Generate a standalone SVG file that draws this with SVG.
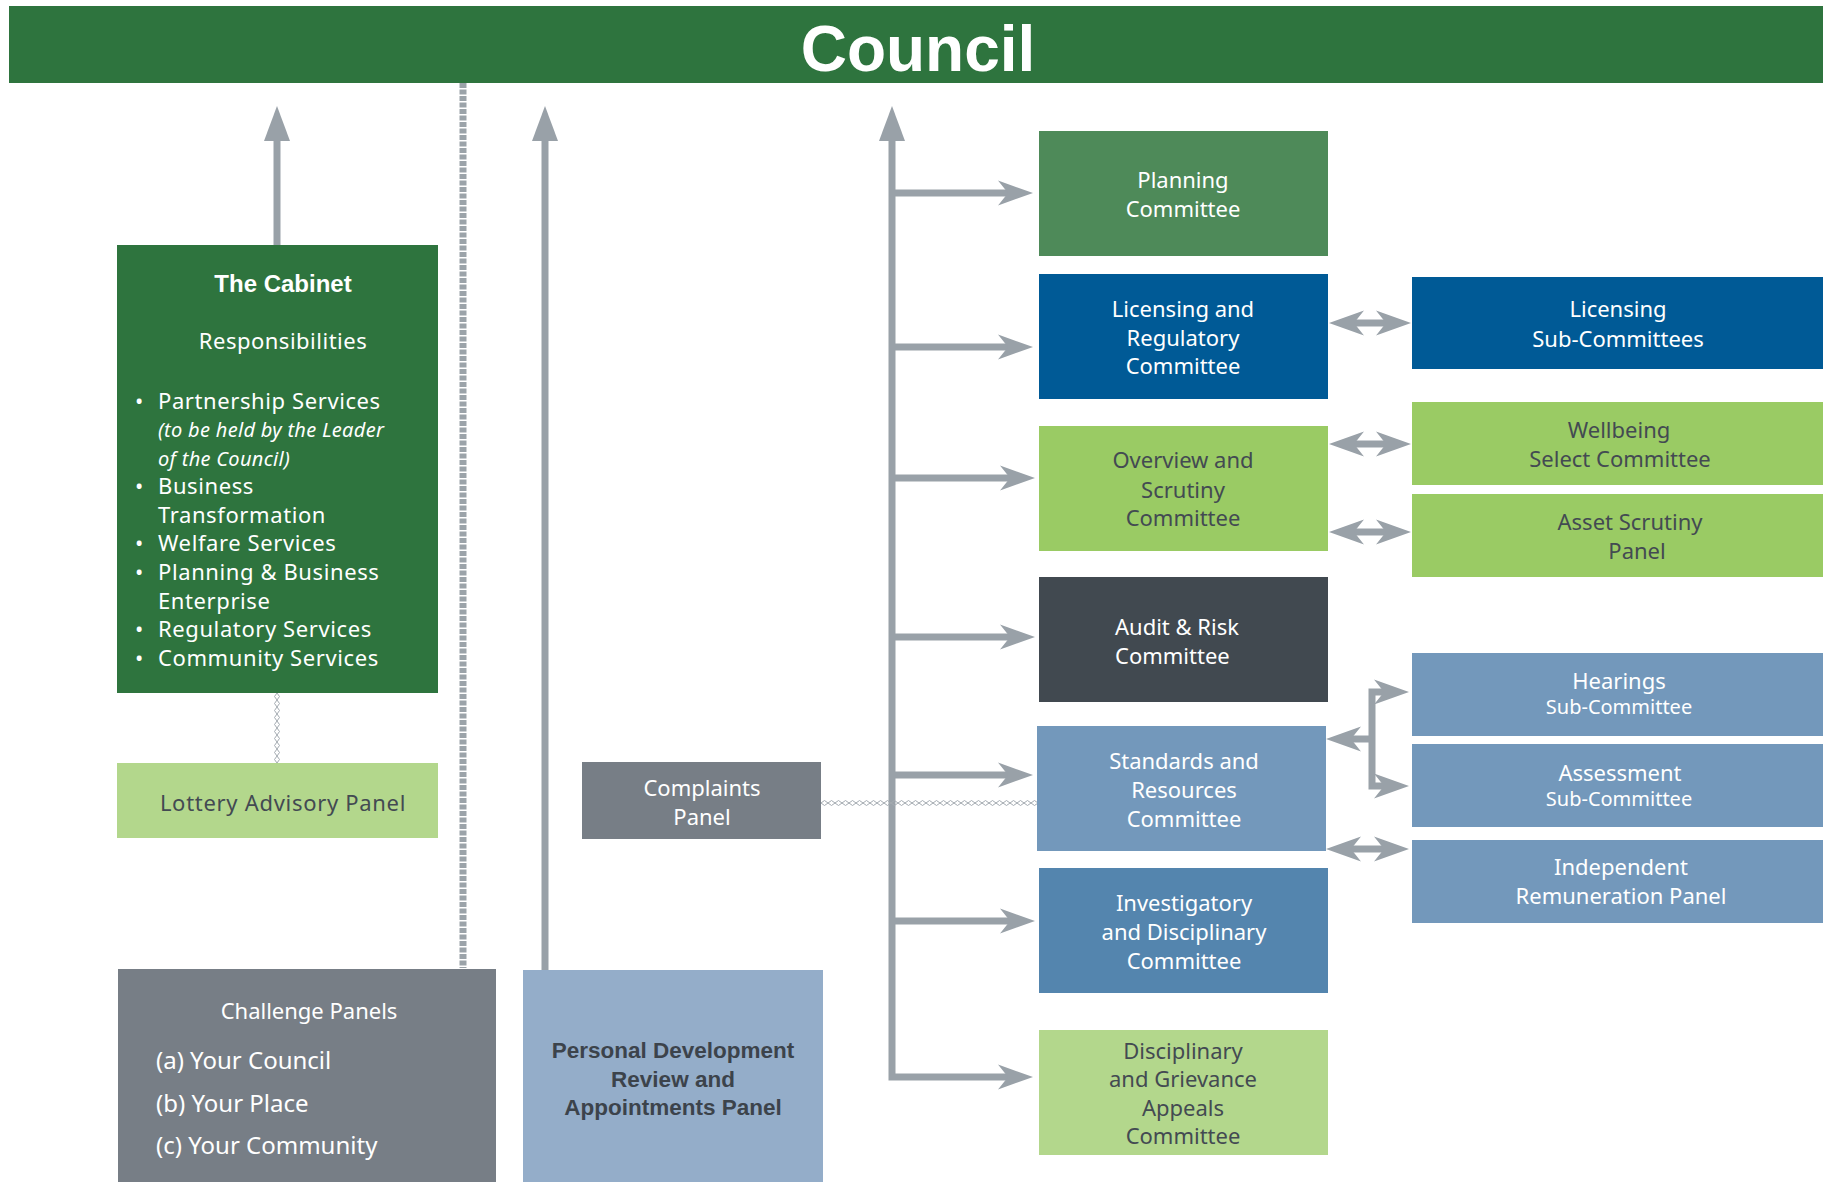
<svg xmlns="http://www.w3.org/2000/svg" width="1823" height="1182" viewBox="0 0 1823 1182">
<style>
.t{font-family:"Noto Sans","Open Sans","DejaVu Sans",sans-serif;font-size:22px;text-anchor:middle}
.w{fill:#ffffff}
.d{fill:#434a52}
.s{font-size:20px}
.b{font-family:"Liberation Sans",Arial,sans-serif;font-weight:bold}
.l{text-anchor:start}
.it{font-style:italic;font-size:20px;letter-spacing:0.3px}
.cp{font-size:24px}
.con{fill:none;stroke:#99a1a8;stroke-width:7}
</style>
<defs>
<marker id="up" markerUnits="userSpaceOnUse" viewBox="-36 -14 37 28" markerWidth="37" markerHeight="28" refX="-35" refY="0" orient="auto-start-reverse">
<path d="M0,0 L-35,-13 L-35,13 Z" fill="#99a1a8"/>
</marker>
<marker id="ah" markerUnits="userSpaceOnUse" viewBox="-36 -14 37 28" markerWidth="37" markerHeight="28" refX="-25" refY="0" orient="auto-start-reverse">
<path d="M0,0 L-35,-12.5 L-25,0 L-35,12.5 Z" fill="#99a1a8"/>
</marker>
<pattern id="dh" patternUnits="userSpaceOnUse" x="821" y="799" width="7" height="8">
<path d="M0,4 L3.5,1.5 L7,4 L3.5,6.5 Z" fill="none" stroke="#a3aab0" stroke-width="1"/>
</pattern>
<pattern id="dv" patternUnits="userSpaceOnUse" x="273" y="693" width="8" height="7">
<path d="M4,0 L6.5,3.5 L4,7 L1.5,3.5 Z" fill="none" stroke="#a3aab0" stroke-width="1"/>
</pattern>
</defs>

<g id="connectors">
<line x1="463" y1="83" x2="463" y2="968" stroke="#9ba3a9" stroke-width="7" stroke-dasharray="5 1.5"/>
<path class="con" d="M277,245 V141" marker-end="url(#up)"/>
<path class="con" d="M545,970 V141" marker-end="url(#up)"/>
<path class="con" d="M892,141 V1077 H1008" marker-start="url(#up)" marker-end="url(#ah)"/>
<path class="con" d="M892,193 H1008" marker-end="url(#ah)"/>
<path class="con" d="M892,347 H1008" marker-end="url(#ah)"/>
<path class="con" d="M892,478 H1010" marker-end="url(#ah)"/>
<path class="con" d="M892,637 H1010" marker-end="url(#ah)"/>
<path class="con" d="M892,775 H1008" marker-end="url(#ah)"/>
<path class="con" d="M892,921 H1010" marker-end="url(#ah)"/>
<path class="con" d="M1354,323 H1386" marker-start="url(#ah)" marker-end="url(#ah)"/>
<path class="con" d="M1354,444 H1386" marker-start="url(#ah)" marker-end="url(#ah)"/>
<path class="con" d="M1354,532 H1386" marker-start="url(#ah)" marker-end="url(#ah)"/>
<path class="con" d="M1351,849 H1384" marker-start="url(#ah)" marker-end="url(#ah)"/>
<path class="con" d="M1384,692 H1372 V786 H1384" marker-start="url(#ah)" marker-end="url(#ah)"/>
<path class="con" d="M1372,739 H1351" marker-end="url(#ah)"/>
<rect x="273" y="693" width="8" height="70" fill="url(#dv)"/>
<rect x="821" y="799" width="217" height="8" fill="url(#dh)"/>
</g>

<g id="council">
<rect x="9" y="6" width="1814" height="77" fill="#2e743e"/>
<text x="918" y="71" class="b" font-size="64" fill="#ffffff" text-anchor="middle">Council</text>
</g>

<g id="cabinet">
<rect x="117" y="245" width="321" height="448" fill="#2e743e"/>
<text x="283" y="292" class="b w" font-size="24" text-anchor="middle">The Cabinet</text>
<text x="283" y="349" class="t w" letter-spacing="0.5">Responsibilities</text>
<g class="t w l" letter-spacing="0.6">
<text x="135" y="408.7">•</text><text x="158" y="408.7">Partnership Services</text>
<text x="158" y="437.2" class="it">(to be held by the Leader</text>
<text x="158" y="465.7" class="it">of the Council)</text>
<text x="135" y="494">•</text><text x="158" y="494">Business</text>
<text x="158" y="522.6">Transformation</text>
<text x="135" y="551">•</text><text x="158" y="551">Welfare Services</text>
<text x="135" y="580.3">•</text><text x="158" y="580.3">Planning &amp; Business</text>
<text x="158" y="608.8">Enterprise</text>
<text x="135" y="637.3">•</text><text x="158" y="637.3">Regulatory Services</text>
<text x="135" y="665.7">•</text><text x="158" y="665.7">Community Services</text>
</g>
</g>

<g id="lottery">
<rect x="117" y="763" width="321" height="75" fill="#b3d78c"/>
<text x="283" y="811" class="t d" letter-spacing="0.7">Lottery Advisory Panel</text>
</g>

<g id="challenge">
<rect x="118" y="969" width="378" height="213" fill="#777e86"/>
<text x="309" y="1019" class="t w">Challenge Panels</text>
<text x="156" y="1069" class="t w l cp">(a) Your Council</text>
<text x="156" y="1112" class="t w l cp">(b) Your Place</text>
<text x="156" y="1154" class="t w l cp">(c) Your Community</text>
</g>

<g id="personal">
<rect x="523" y="970" width="300" height="212" fill="#94adc9"/>
<text class="b" font-size="22.5" fill="#3c434b" text-anchor="middle"><tspan x="673" y="1058">Personal Development</tspan><tspan x="673" y="1086.5">Review and</tspan><tspan x="673" y="1115">Appointments Panel</tspan></text>
</g>

<g id="complaints">
<rect x="582" y="762" width="239" height="77" fill="#777e86"/>
<text class="t w"><tspan x="702" y="796">Complaints</tspan><tspan x="702" y="825">Panel</tspan></text>
</g>

<g id="planning">
<rect x="1039" y="131" width="289" height="125" fill="#4e8a59"/>
<text class="t w"><tspan x="1183" y="188">Planning</tspan><tspan x="1183" y="217">Committee</tspan></text>
</g>

<g id="licensing">
<rect x="1039" y="274" width="289" height="125" fill="#005a96"/>
<text class="t w"><tspan x="1183" y="317">Licensing and</tspan><tspan x="1183" y="345.5">Regulatory</tspan><tspan x="1183" y="374">Committee</tspan></text>
</g>

<g id="licensing-sub">
<rect x="1412" y="277" width="411" height="92" fill="#005a96"/>
<text class="t w"><tspan x="1618" y="317">Licensing</tspan><tspan x="1618" y="346.5">Sub-Committees</tspan></text>
</g>

<g id="overview">
<rect x="1039" y="426" width="289" height="125" fill="#9acb64"/>
<text class="t d"><tspan x="1183" y="468">Overview and</tspan><tspan x="1183" y="497.5">Scrutiny</tspan><tspan x="1183" y="526">Committee</tspan></text>
</g>

<g id="wellbeing">
<rect x="1412" y="402" width="411" height="83" fill="#9acb64"/>
<text class="t d"><tspan x="1619" y="438">Wellbeing</tspan><tspan x="1620" y="467">Select Committee</tspan></text>
</g>

<g id="asset">
<rect x="1412" y="494" width="411" height="83" fill="#9acb64"/>
<text class="t d"><tspan x="1630" y="530">Asset Scrutiny</tspan><tspan x="1637" y="558.5">Panel</tspan></text>
</g>

<g id="audit">
<rect x="1039" y="577" width="289" height="125" fill="#414950"/>
<text class="t w l"><tspan x="1115" y="634.5">Audit &amp; Risk</tspan><tspan x="1115" y="663.5">Committee</tspan></text>
</g>

<g id="standards">
<rect x="1037" y="726" width="289" height="125" fill="#7398bb"/>
<text class="t w"><tspan x="1184" y="769">Standards and</tspan><tspan x="1184" y="798">Resources</tspan><tspan x="1184" y="826.5">Committee</tspan></text>
</g>

<g id="hearings">
<rect x="1412" y="653" width="411" height="83" fill="#7398bb"/>
<text class="t w"><tspan x="1619" y="689">Hearings</tspan><tspan x="1619" y="714" class="s">Sub-Committee</tspan></text>
</g>

<g id="assessment">
<rect x="1412" y="744" width="411" height="83" fill="#7398bb"/>
<text class="t w"><tspan x="1620" y="780.5">Assessment</tspan><tspan x="1619" y="806" class="s">Sub-Committee</tspan></text>
</g>

<g id="independent">
<rect x="1412" y="840" width="411" height="83" fill="#7398bb"/>
<text class="t w"><tspan x="1621" y="875">Independent</tspan><tspan x="1621" y="904">Remuneration Panel</tspan></text>
</g>

<g id="investigatory">
<rect x="1039" y="868" width="289" height="125" fill="#5485ae"/>
<text class="t w"><tspan x="1184" y="911">Investigatory</tspan><tspan x="1184" y="940">and Disciplinary</tspan><tspan x="1184" y="968.5">Committee</tspan></text>
</g>

<g id="disciplinary">
<rect x="1039" y="1030" width="289" height="125" fill="#b3d78c"/>
<text class="t d"><tspan x="1183" y="1059">Disciplinary</tspan><tspan x="1183" y="1087">and Grievance</tspan><tspan x="1183" y="1115.5">Appeals</tspan><tspan x="1183" y="1144">Committee</tspan></text>
</g>
</svg>
